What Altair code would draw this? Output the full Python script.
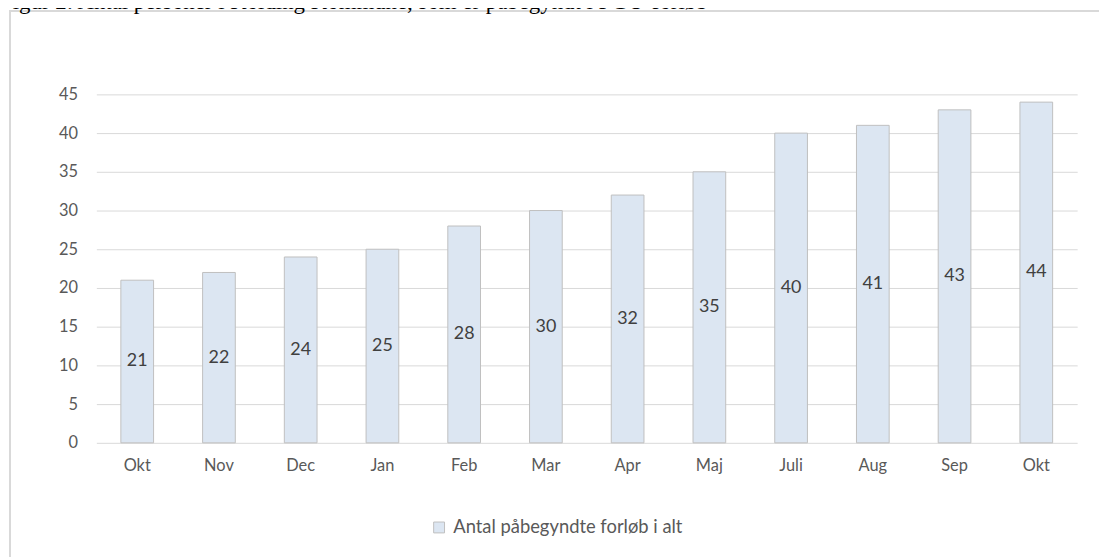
import json
import altair as alt
import pandas as pd

months = ["Okt", "Nov", "Dec", "Jan", "Feb", "Mar", "Apr", "Maj", "Juli", "Aug", "Sep", "Okt"]
values = [21, 22, 24, 25, 28, 30, 32, 35, 40, 41, 43, 44]
series_name = "Antal påbegyndte forløb i alt"
title_text = "Figur 2: Antal personer i Kolding Kommune, som er påbegyndt i FGU-forløb"
y_ticks = [0, 5, 10, 15, 20, 25, 30, 35, 40, 45]

df = pd.DataFrame({
    "idx": list(range(len(months))),
    "value": values,
    "half": [v / 2 for v in values],
    "series": [series_name] * len(values),
})

label_expr = json.dumps(months) + "[datum.value]"

W, H = 988, 351
AX_FONT = "Lato"

x_scale = alt.Scale(paddingInner=0.6, paddingOuter=0.3)
x_axis = alt.Axis(
    title=None, labelExpr=label_expr, labelAngle=0, ticks=False, domain=False, grid=False,
    labelFont=AX_FONT, labelFontSize=16.5, labelColor="#595959", labelPadding=15,
)
y_scale = alt.Scale(domain=[0, 45], nice=False)
y_axis = alt.Axis(
    title=None, values=y_ticks, ticks=False, domain=False,
    grid=True, gridColor="#d9d9d9", gridWidth=1,
    labelFont=AX_FONT, labelFontSize=16.5, labelColor="#595959", labelPadding=19,
)

bars = alt.Chart(df).mark_bar(stroke="#bfbfbf", strokeWidth=1).encode(
    x=alt.X("idx:O", scale=x_scale, axis=x_axis),
    y=alt.Y("value:Q", scale=y_scale, axis=y_axis),
    color=alt.Color(
        "series:N",
        scale=alt.Scale(range=["#dce6f2"]),
        legend=alt.Legend(
            title=None, orient="none", legendX=336, legendY=427,
            symbolType="square", symbolSize=120, symbolStrokeColor="#bfbfbf",
            symbolStrokeWidth=1, labelFont=AX_FONT, labelFontSize=18.5,
            labelColor="#595959", labelOffset=5, padding=0, labelLimit=500,
        ),
    ),
)

labels = alt.Chart(df).mark_text(
    font=AX_FONT, fontSize=18, color="#404040", baseline="middle", align="center"
).encode(
    x=alt.X("idx:O", scale=x_scale, axis=x_axis),
    y=alt.Y("half:Q", scale=y_scale, axis=y_axis),
    text=alt.Text("value:Q"),
)

frame = alt.Chart(pd.DataFrame({"f": [0]})).mark_rect(
    fill=None, stroke="#d9d9d9", strokeWidth=2
).encode(
    x=alt.value(-87), x2=alt.value(1030), y=alt.value(-84), y2=alt.value(500),
)

title = alt.Chart(pd.DataFrame({"t": [title_text]})).mark_text(
    font="Liberation Serif", fontSize=23, color="#000000", align="left", baseline="alphabetic"
).encode(
    x=alt.value(-97), y=alt.value(-86), text="t:N",
)

chart = alt.layer(frame, bars, labels, title).properties(
    width=W, height=H,
    background="white",
    autosize=alt.AutoSizeParams(type="none"),
    padding={"left": 89, "top": 85, "right": 22, "bottom": 113},
).configure_view(strokeWidth=0)

chart.save("out.html", embed_options={"renderer": "svg", "actions": False})
